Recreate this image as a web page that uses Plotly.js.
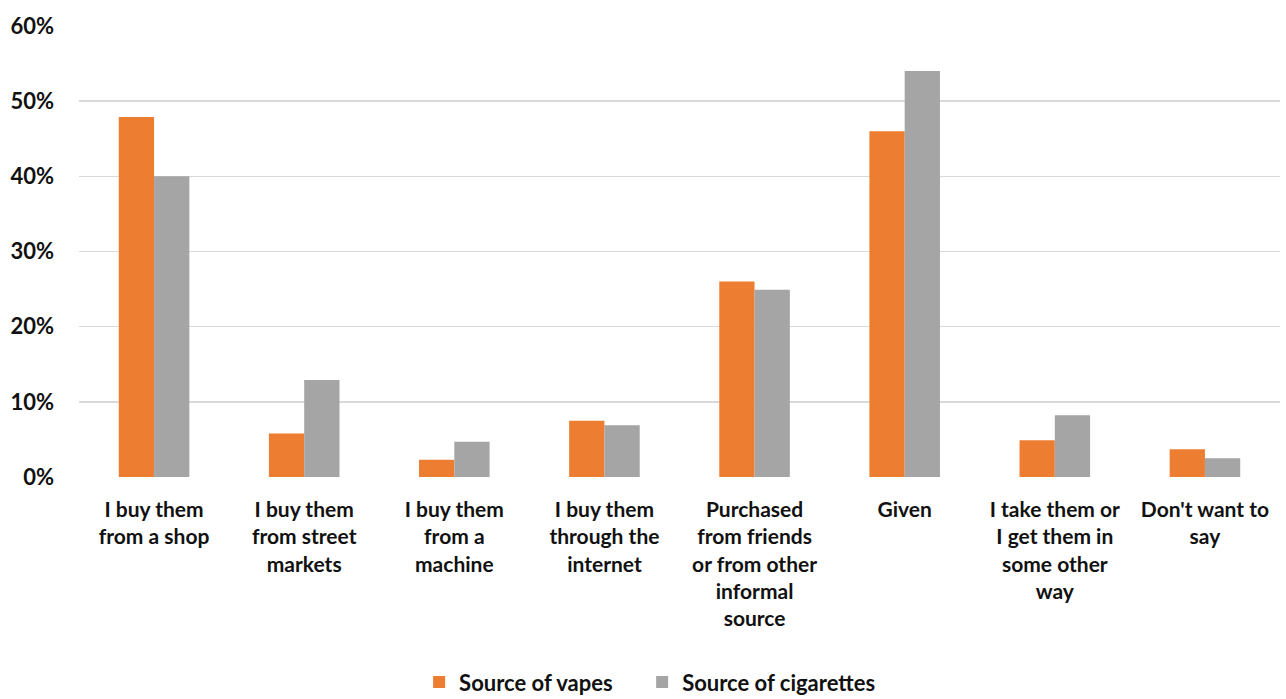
<!DOCTYPE html>
<html>
<head>
<meta charset="utf-8">
<script src="https://cdn.plot.ly/plotly-3.0.1.min.js"></script>
<style>
  html, body { margin: 0; padding: 0; background: #ffffff; }
  #chart { width: 1286px; height: 699px; }
</style>
</head>
<body>
<div id="chart"></div>
<script>
// Where young people get their vapes and cigarettes (share of respondents)
const categories = [
  "I buy them<br>from a shop",
  "I buy them<br>from street<br>markets",
  "I buy them<br>from a<br>machine",
  "I buy them<br>through the<br>internet",
  "Purchased<br>from friends<br>or from other<br>informal<br>source",
  "Given",
  "I take them or<br>I get them in<br>some other<br>way",
  "Don't want to<br>say"
];
const vapes = [0.479, 0.058, 0.023, 0.075, 0.26, 0.46, 0.049, 0.037];
const cigarettes = [0.40, 0.129, 0.047, 0.069, 0.249, 0.54, 0.082, 0.025];
const seriesNames = ["Source of vapes", "Source of cigarettes"];
const yTicks = [0, 0.1, 0.2, 0.3, 0.4, 0.5, 0.6];

const FONT = "Lato, 'Open Sans', sans-serif";
const INK = "#111111";

// each series gets its own legend box so the two entries can be spaced freely
const traces = [
  {
    type: "bar", name: seriesNames[0], x: categories, y: vapes,
    marker: { color: "#ED7D31" }, hoverinfo: "skip", legend: "legend"
  },
  {
    type: "bar", name: seriesNames[1], x: categories, y: cigarettes,
    marker: { color: "#A5A5A5" }, hoverinfo: "skip", legend: "legend2"
  }
];

const legendStyle = {
  orientation: "h", xanchor: "left", y: -0.455, yanchor: "middle",
  font: { family: FONT, size: 22, color: INK, weight: "bold" }
};

const layout = {
  width: 1286, height: 699,
  margin: { l: 79, r: 6, t: 26, b: 222, autoexpand: false },
  paper_bgcolor: "#ffffff", plot_bgcolor: "#ffffff",
  barmode: "group", bargap: 0.53, bargroupgap: 0,
  font: { family: FONT, size: 22, color: INK, weight: "bold" },
  showlegend: true,
  legend: Object.assign({}, legendStyle, { x: 0.2832 }),
  legend2: Object.assign({}, legendStyle, { x: 0.4689 }),
  xaxis: {
    type: "category", showgrid: false, zeroline: false, showline: false,
    automargin: false, ticks: "", ticklabelstandoff: 18,
    tickfont: { family: FONT, size: 21, color: INK, weight: "bold" }
  },
  yaxis: {
    range: [0, 0.6], tickvals: yTicks, tickformat: ".0%",
    automargin: false,
    showgrid: true, gridcolor: "#d9d9d9", gridwidth: 1.5,
    zeroline: false, showline: false, ticks: "", ticklabelstandoff: 24,
    tickfont: { family: FONT, size: 22, color: INK, weight: "bold" }
  }
};

Plotly.newPlot("chart", traces, layout, { displayModeBar: false, staticPlot: true });
</script>
</body>
</html>
